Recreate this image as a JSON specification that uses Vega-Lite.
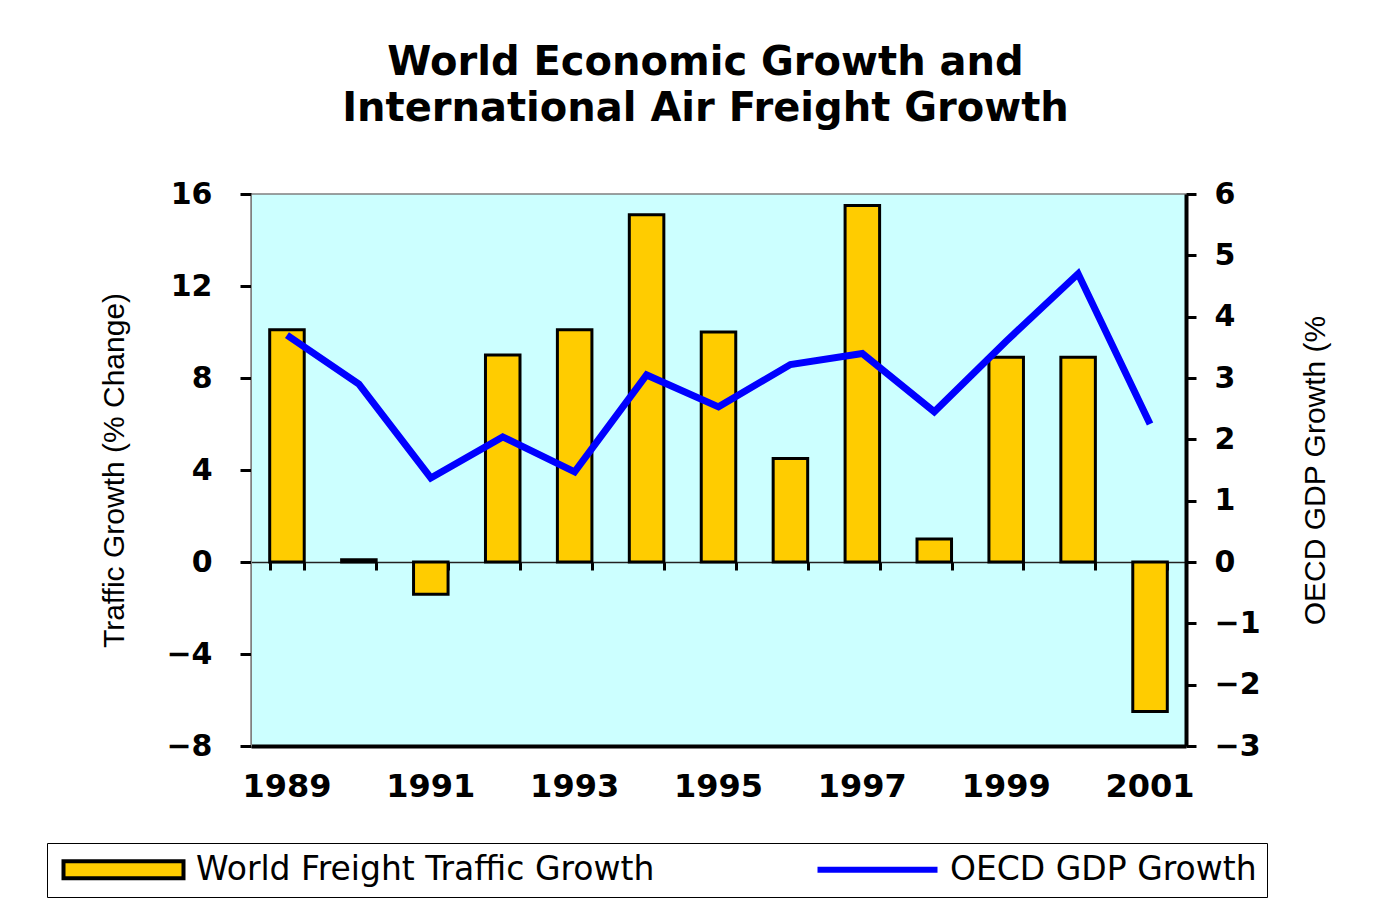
{
  "$schema": "https://vega.github.io/schema/vega-lite/v6.json",
  "width": 935,
  "height": 552,
  "autosize": {"type": "none"},
  "padding": {"left": 251, "top": 194, "right": 200, "bottom": 165},
  "background": "white",
  "title": {
    "text": ["World Economic Growth and", "International Air Freight Growth"],
    "font": "DejaVu Sans",
    "fontSize": 40,
    "fontWeight": "bold",
    "lineHeight": 46,
    "anchor": "middle",
    "offset": 50,
    "dx": -13,
    "color": "black"
  },
  "config": {
    "view": {"fill": "#CCFFFF", "stroke": "#808080", "strokeWidth": 1.5}
  },
  "data": {
    "values": [
      {"year": 1989, "traffic": 10.1, "gdp": 3.7},
      {"year": 1990, "traffic": 0.1, "gdp": 2.9},
      {"year": 1991, "traffic": -1.4, "gdp": 1.37},
      {"year": 1992, "traffic": 9.0, "gdp": 2.04},
      {"year": 1993, "traffic": 10.1, "gdp": 1.47},
      {"year": 1994, "traffic": 15.1, "gdp": 3.05},
      {"year": 1995, "traffic": 10.0, "gdp": 2.53},
      {"year": 1996, "traffic": 4.5, "gdp": 3.22},
      {"year": 1997, "traffic": 15.5, "gdp": 3.4},
      {"year": 1998, "traffic": 1.0, "gdp": 2.45},
      {"year": 1999, "traffic": 8.9, "gdp": 3.6},
      {"year": 2000, "traffic": 8.9, "gdp": 4.7},
      {"year": 2001, "traffic": -6.5, "gdp": 2.25}
    ]
  },
  "layer": [
    {
      "mark": {"type": "bar", "fill": "#FFCC00", "stroke": "black", "strokeWidth": 3},
      "encoding": {
        "x": {
          "field": "year",
          "type": "ordinal",
          "scale": {"paddingInner": 0.52, "paddingOuter": 0.26},
          "axis": {
            "orient": "bottom",
            "title": null,
            "domain": true,
            "domainColor": "black",
            "domainWidth": 4,
            "ticks": false,
            "labelAngle": 0,
            "labelExpr": "datum.value % 2 == 1 ? datum.label : ''",
            "labelFont": "DejaVu Sans",
            "labelFontSize": 32,
            "labelFontWeight": "bold",
            "labelColor": "black",
            "labelPadding": 25
          }
        },
        "y": {
          "field": "traffic",
          "type": "quantitative",
          "scale": {"domain": [-8, 16], "nice": false},
          "axis": {
            "orient": "left",
            "values": [-8, -4, 0, 4, 8, 12, 16],
            "grid": false,
            "domainColor": "#808080",
            "domainWidth": 1,
            "tickColor": "black",
            "tickSize": 11,
            "tickWidth": 3,
            "labelFont": "DejaVu Sans",
            "labelFontSize": 30,
            "labelFontWeight": "bold",
            "labelColor": "black",
            "labelPadding": 28,
            "title": "Traffic Growth (% Change)",
            "titleFont": "Liberation Sans",
            "titleFontSize": 30,
            "titleFontWeight": "normal",
            "titleColor": "black",
            "titlePadding": 36
          }
        }
      }
    },
    {
      "mark": {"type": "line", "strokeWidth": 7},
      "encoding": {
        "x": {
          "field": "year",
          "type": "ordinal",
          "axis": {
            "orient": "bottom",
            "offset": -184,
            "title": null,
            "labels": false,
            "domainColor": "#222222",
            "domainWidth": 1.5,
            "ticks": true,
            "tickBand": "extent",
            "tickSize": 8,
            "tickWidth": 3,
            "tickColor": "black"
          }
        },
        "y": {
          "field": "gdp",
          "type": "quantitative",
          "scale": {"domain": [-3, 6], "nice": false},
          "axis": {
            "orient": "right",
            "values": [-3, -2, -1, 0, 1, 2, 3, 4, 5, 6],
            "grid": false,
            "domainColor": "black",
            "domainWidth": 4,
            "tickColor": "black",
            "tickSize": 10,
            "tickWidth": 3,
            "labelFont": "DejaVu Sans",
            "labelFontSize": 30,
            "labelFontWeight": "bold",
            "labelColor": "black",
            "labelPadding": 18,
            "title": "OECD GDP Growth (%",
            "titleAngle": 270,
            "titleFont": "Liberation Sans",
            "titleFontSize": 30,
            "titleFontWeight": "normal",
            "titleColor": "black",
            "titlePadding": 70
          }
        },
        "color": {
          "datum": "OECD GDP Growth",
          "scale": {
            "domain": ["World Freight Traffic Growth", "OECD GDP Growth"],
            "range": ["black", "#0000FF"]
          },
          "legend": {
            "title": null,
            "orient": "none",
            "legendX": -204,
            "legendY": 649,
            "direction": "horizontal",
            "strokeColor": "black",
            "fillColor": "white",
            "padding": 10,
            "columnPadding": 150,
            "symbolSize": 400,
            "symbolType": "M-1,-0.85H11V0.85H-1Z",
            "labelOffset": 106,
            "labelFont": "DejaVu Sans",
            "labelFontSize": 33,
            "labelColor": "black",
            "labelLimit": 900,
            "encode": {
              "symbols": {
                "update": {
                  "shape": {"signal": "datum.value === 'OECD GDP Growth' ? 'M-1,0H11' : 'M-1,-0.85H11V0.85H-1Z'"},
                  "fill": {"signal": "datum.value === 'OECD GDP Growth' ? 'transparent' : '#FFCC00'"},
                  "strokeWidth": {"signal": "datum.value === 'OECD GDP Growth' ? 6 : 4"},
                  "opacity": {"value": 1}
                }
              }
            }
          }
        }
      }
    }
  ],
  "resolve": {
    "scale": {"y": "independent"},
    "axis": {"y": "independent", "x": "independent"}
  }
}
